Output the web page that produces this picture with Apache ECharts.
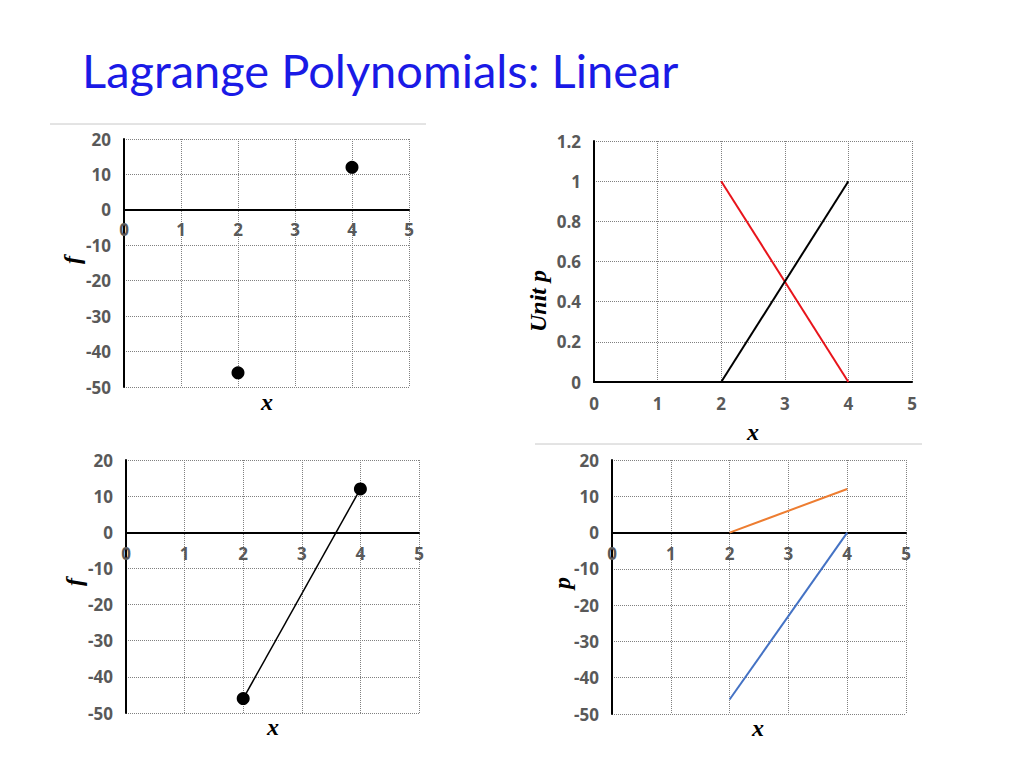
<!DOCTYPE html>
<html lang="en">
<head>
  <meta charset="UTF-8">
  <title>Lagrange Polynomials: Linear</title>
  <style>
    html, body { margin: 0; padding: 0; background: #fff; }
    #chart { width: 1024px; height: 768px; }
  </style>
</head>
<body>
  <script src="https://cdn.jsdelivr.net/npm/echarts@6/dist/echarts.min.js"></script>
  <div id="chart"></div>
  <script>
    // data points (nodes) and the two linear basis functions
    const nodeX = [2, 4]
    const nodeF = [-46, 12]
    const basisL0 = [1, 0]      // red, unit p
    const basisL1 = [0, 1]      // black, unit p
    const scaledP0 = [-46, 0]   // blue
    const scaledP1 = [0, 12]    // orange

    const fTicks = { min: -50, max: 20, interval: 10 }
    const unitTicks = { min: 0, max: 1.2, interval: 0.2 }
    const xTicks = { min: 0, max: 5, interval: 1 }

    let chart = echarts.init(document.getElementById('chart'), null, { renderer: 'svg' })

    const labelFont = { color: '#595959', fontWeight: 'bold', fontSize: 17, fontFamily: 'Open Sans' }
    const grid = { type: 'dotted', color: '#808080', width: 1 }

    // labels sit just under the zero line, so margin is counted back up from the grid bottom
    function xAx(i, margin) {
      return {
        type: 'value', gridIndex: i, min: xTicks.min, max: xTicks.max, interval: xTicks.interval,
        axisLine: { show: true, onZero: true, lineStyle: { color: '#000', width: 2 } },
        axisTick: { show: false },
        axisLabel: Object.assign({ margin: margin }, labelFont),
        splitLine: { show: true, showMinLine: true, showMaxLine: true, lineStyle: grid }
      }
    }
    function yAx(i, t) {
      return {
        type: 'value', gridIndex: i, min: t.min, max: t.max, interval: t.interval,
        axisLine: { show: true, onZero: false, lineStyle: { color: '#000', width: 2 } },
        axisTick: { show: false },
        axisLabel: Object.assign({ margin: 13 }, labelFont),
        splitLine: { show: true, showMinLine: true, showMaxLine: true, lineStyle: grid }
      }
    }
    function pairs(xs, ys) {
      return xs.map((x, k) => [x, ys[k]])
    }

    function axisTitle(text, x, y, rotate) {
      return {
        type: 'text', x: x, y: y, rotation: rotate ? Math.PI / 2 : 0,
        style: {
          text: text, align: 'center', verticalAlign: 'middle',
          font: 'italic bold 24px "Liberation Serif"', fill: '#000'
        }
      }
    }

    let option = {
      animation: false,
      grid: [
        { left: 124, top: 139, width: 285, height: 248 },
        { left: 594, top: 141, width: 318, height: 241 },
        { left: 126, top: 460, width: 293, height: 253 },
        { left: 612, top: 460, width: 294, height: 254 }
      ],
      xAxis: [xAx(0, -166), xAx(1, 13), xAx(2, -168), xAx(3, -169)],
      yAxis: [yAx(0, fTicks), yAx(1, unitTicks), yAx(2, fTicks), yAx(3, fTicks)],
      series: [
        {
          type: 'scatter', xAxisIndex: 0, yAxisIndex: 0, symbolSize: 13,
          itemStyle: { color: '#000', opacity: 1 }, data: pairs(nodeX, nodeF)
        },
        {
          type: 'line', xAxisIndex: 1, yAxisIndex: 1, showSymbol: false,
          lineStyle: { color: '#e8141b', width: 2 }, data: pairs(nodeX, basisL0)
        },
        {
          type: 'line', xAxisIndex: 1, yAxisIndex: 1, showSymbol: false,
          lineStyle: { color: '#000', width: 2 }, data: pairs(nodeX, basisL1)
        },
        {
          type: 'line', xAxisIndex: 2, yAxisIndex: 2, symbol: 'circle', symbolSize: 13,
          itemStyle: { color: '#000', opacity: 1 },
          lineStyle: { color: '#000', width: 1.5 }, data: pairs(nodeX, nodeF)
        },
        {
          type: 'line', xAxisIndex: 3, yAxisIndex: 3, showSymbol: false,
          lineStyle: { color: '#ed7d31', width: 2 }, data: pairs(nodeX, scaledP1)
        },
        {
          type: 'line', xAxisIndex: 3, yAxisIndex: 3, showSymbol: false,
          lineStyle: { color: '#4472c4', width: 2 }, data: pairs(nodeX, scaledP0)
        }
      ],
      graphic: [
        {
          type: 'text', left: 82, top: 46,
          style: { text: 'Lagrange Polynomials: Linear', font: '47px Lato', fill: '#1a1ae6' }
        },
        { type: 'line', shape: { x1: 50, y1: 124, x2: 426, y2: 124 }, style: { stroke: '#c8c8c8', lineWidth: 1 } },
        { type: 'line', shape: { x1: 535, y1: 444, x2: 922, y2: 444 }, style: { stroke: '#c8c8c8', lineWidth: 1 } },
        axisTitle('f', 72, 260, true),
        axisTitle('x', 267, 402, false),
        axisTitle('Unit p', 538, 301, true),
        axisTitle('x', 753, 432, false),
        axisTitle('f', 74, 582, true),
        axisTitle('x', 273, 727, false),
        axisTitle('p', 562, 583, true),
        axisTitle('x', 758, 728, false)
      ]
    }
    chart.setOption(option)
  </script>
</body>
</html>
